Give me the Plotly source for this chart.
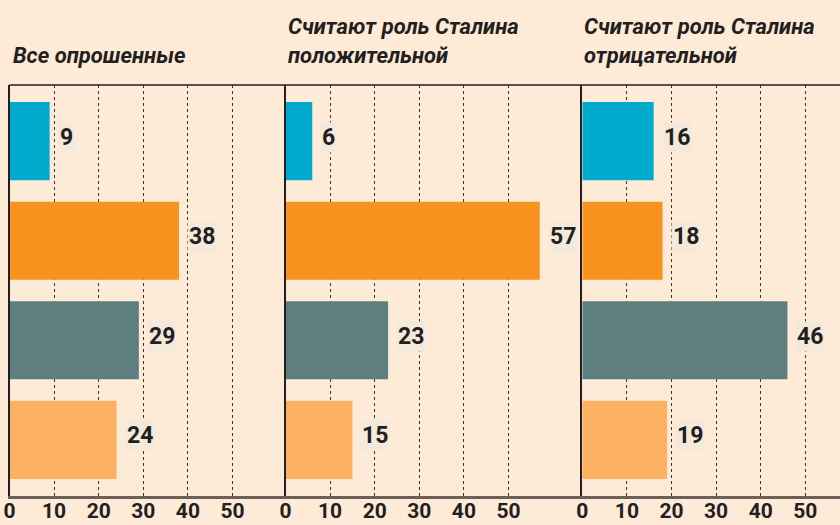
import plotly.graph_objects as go

# Survey shares (%) by answer option, for three respondent groups
panel_titles = [
    "Все опрошенные",
    "Считают роль Сталина<br>положительной",
    "Считают роль Сталина<br>отрицательной",
]
all_respondents = [9, 38, 29, 24]
positive_view = [6, 57, 23, 15]
negative_view = [16, 18, 46, 19]
tick_values = [0, 10, 20, 30, 40, 50]
tick_labels = ["0", "10", "20", "30", "40", "50"]
bar_colors = ["#00aacd", "#f7931e", "#5d7f80", "#fcb062"]

W, H = 840, 525
BG = "#fdebd8"
INK = "#231f20"
FONT = "Roboto, Liberation Sans, sans-serif"

# horizontal layout in pixels: panel edges and a shared px-per-unit scale
edges = [9.5, 285.5, 582.3, 840.0]
px_per_unit = 4.46
plot_top, plot_bottom = 85.0, 496.0

series = [all_respondents, positive_view, negative_view]
positions = list(range(len(all_respondents)))

fig = go.Figure()
layout_axes = {}
for i, vals in enumerate(series):
    n = "" if i == 0 else str(i + 1)
    xa, ya = "x" + n, "y" + n
    fig.add_trace(go.Bar(
        x=vals, y=positions, orientation="h",
        marker=dict(color=bar_colors, line=dict(width=0)),
        width=0.784, xaxis=xa, yaxis=ya, showlegend=False,
        hoverinfo="x",
    ))
    x0, x1 = edges[i], edges[i + 1]
    layout_axes["xaxis" + n] = dict(
        domain=[x0 / W, x1 / W],
        range=[0, (x1 - x0) / px_per_unit],
        tickvals=tick_values, ticktext=tick_labels,
        tickfont=dict(family=FONT, size=21, color=INK, weight="bold"),
        ticks="", ticklen=0, ticklabelstandoff=-6,
        showgrid=True, gridcolor="#3a3330", griddash="dot", gridwidth=1.2,
        showline=True, linecolor="#6b5f57", linewidth=2.5,
        zeroline=False, anchor=ya, automargin=False,
        fixedrange=True,
    )
    layout_axes["yaxis" + n] = dict(
        domain=[(H - plot_bottom) / H, (H - plot_top) / H],
        range=[3.563, -0.563],
        showticklabels=False, ticks="", showgrid=False, zeroline=False,
        showline=True, linecolor=INK, linewidth=1.5,
        anchor=xa, automargin=False, fixedrange=True,
    )
    # value labels beside each bar
    for v, p in zip(vals, positions):
        fig.add_annotation(
            x=v, y=p, xref=xa, yref=ya, text=str(v),
            xanchor="left", yanchor="middle", xshift=8, yshift=4,
            showarrow=False,
            font=dict(family=FONT, size=23, color=INK, weight="bold"),
            bgcolor="#f3eadb", borderpad=1,
        )
    # panel heading
    fig.add_annotation(
        x=(x0 + (1 if i == 0 else 0)) / W, y=(H - 70) / H,
        xref="paper", yref="paper", text=panel_titles[i],
        xanchor="left", yanchor="bottom", align="left", showarrow=False,
        font=dict(family=FONT, size=22, color=INK, weight="bold", style="italic"),
    )

# top border across all three panels
fig.add_shape(
    type="line", xref="paper", yref="paper",
    x0=edges[0] / W, x1=1, y0=(H - plot_top) / H, y1=(H - plot_top) / H,
    line=dict(color=INK, width=1.5),
)

fig.update_layout(
    width=W, height=H,
    margin=dict(l=0, r=0, t=0, b=0),
    paper_bgcolor=BG, plot_bgcolor=BG,
    bargap=0.2,
    **layout_axes,
)

fig.write_html("out.html")
